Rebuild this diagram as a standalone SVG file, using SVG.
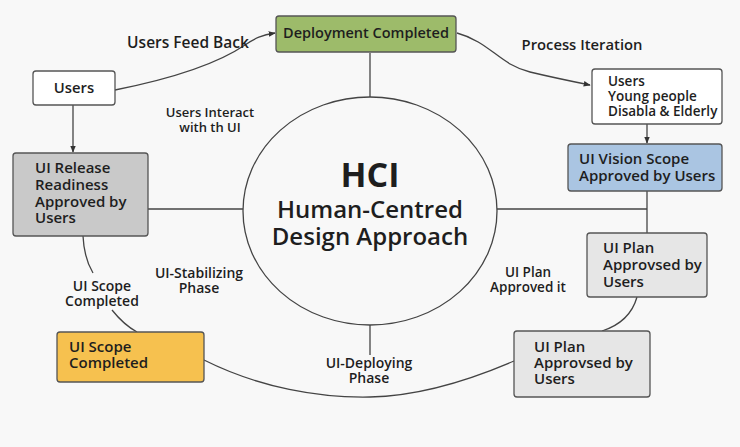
<svg xmlns="http://www.w3.org/2000/svg" width="740" height="447" viewBox="0 0 740 447">
<defs>
<marker id="arr" viewBox="0 0 10 10" refX="9" refY="5" markerWidth="7" markerHeight="7" orient="auto" markerUnits="userSpaceOnUse">
<path d="M0,1 L10,5 L0,9 z" fill="#333"/>
</marker>
<style>
text{font-family:"Open Sans","Noto Sans","Liberation Sans",sans-serif;font-weight:600;fill:#1e1e1e}
.box{stroke:#555;stroke-width:1.3}
.t{font-size:15px}
.lbl{font-size:13px;text-anchor:middle}
.lbl2{font-size:14px;text-anchor:middle}
.big{font-size:14.8px}
.c{fill:none;stroke:#444;stroke-width:1.3}
</style>
</defs>
<rect width="740" height="447" fill="#f8f8f8"/>

<g id="connectors">
<path class="c" d="M370,53 L370,97"/>
<path class="c" d="M370,325 L370,355"/>
<path class="c" d="M148,209 L243,209"/>
<path class="c" d="M497,209 L647,209"/>
<path class="c" d="M647,191 L647,233"/>
<path class="c" d="M73,105 L73,152" marker-end="url(#arr)"/>
<path class="c" d="M647,124 L647,143" marker-end="url(#arr)"/>
<path class="c" d="M115,90 C175,78 220,62 245,45 C255,38 262,35 275,33" marker-end="url(#arr)"/>
<path class="c" d="M457,33 C490,42 500,65 530,72 C555,78 575,82 590,85" marker-end="url(#arr)"/>
<path class="c" d="M83,236 Q84,258 93,273"/>
<path class="c" d="M112,310 Q124,325 137,332"/>
<path class="c" d="M637,297 Q630,322 602,331"/>
<path class="c" d="M204,360 C260,388 320,398 370,397 C420,396 470,380 514,361"/>
</g>

<g id="hci">
<ellipse cx="370" cy="211" rx="127" ry="114" fill="#f8f8f8" stroke="#444" stroke-width="1.3"/>
<text x="370" y="187" text-anchor="middle" style="font-size:34px;font-weight:700">HCI</text>
<text x="370" y="218" text-anchor="middle" style="font-size:24px">Human-Centred</text>
<text x="370" y="245" text-anchor="middle" style="font-size:24px">Design Approach</text>
</g>

<g id="deployment">
<rect class="box" x="276" y="16" width="180" height="36" rx="3" fill="#9dbb6a"/>
<text x="366" y="38" text-anchor="middle" style="font-size:14.5px">Deployment Completed</text>
</g>

<g id="users">
<rect class="box" x="33" y="71" width="82" height="34" rx="3" fill="#ffffff"/>
<text x="74" y="93" text-anchor="middle" class="big">Users</text>
</g>

<g id="users-groups">
<rect class="box" x="592" y="69" width="130" height="55" rx="3" fill="#ffffff"/>
<text x="608" y="86" style="font-size:13.5px">Users</text>
<text x="608" y="101" style="font-size:13.5px">Young people</text>
<text x="608" y="116" style="font-size:13.5px">Disabla &amp; Elderly</text>
</g>

<g id="vision">
<rect class="box" x="568" y="144" width="154" height="47" rx="3" fill="#aac5e2"/>
<text x="579" y="164" class="t">UI Vision Scope</text>
<text x="579" y="181" class="t">Approved by Users</text>
</g>

<g id="plan1">
<rect class="box" x="587" y="233" width="120" height="64" rx="3" fill="#e6e6e6"/>
<text x="603" y="253" class="t">UI Plan</text>
<text x="603" y="270" class="t">Approvsed by</text>
<text x="603" y="287" class="t">Users</text>
</g>

<g id="plan2">
<rect class="box" x="514" y="331" width="136" height="66" rx="3" fill="#e6e6e6"/>
<text x="534" y="352" class="t">UI Plan</text>
<text x="534" y="368" class="t">Approvsed by</text>
<text x="534" y="384" class="t">Users</text>
</g>

<g id="scope">
<rect class="box" x="57" y="332" width="147" height="50" rx="3" fill="#f6c14f"/>
<text x="69" y="352" class="t">UI Scope</text>
<text x="69" y="368" class="t">Completed</text>
</g>

<g id="release">
<rect class="box" x="13" y="153" width="135" height="83" rx="3" fill="#c9c9c9"/>
<text x="35" y="173" class="t">UI Release</text>
<text x="35" y="190" class="t">Readiness</text>
<text x="35" y="207" class="t">Approved by</text>
<text x="35" y="223" class="t">Users</text>
</g>

<g id="labels">
<text x="188" y="48" class="big" text-anchor="middle" style="font-size:15.5px">Users Feed Back</text>
<text x="582" y="50" class="big" text-anchor="middle">Process Iteration</text>
<text x="210" y="117" class="lbl">Users Interact</text>
<text x="210" y="132" class="lbl">with th UI</text>
<text x="102" y="291" class="lbl2">UI Scope</text>
<text x="102" y="306" class="lbl2">Completed</text>
<text x="199" y="278" class="lbl2">UI-Stabilizing</text>
<text x="199" y="293" class="lbl2">Phase</text>
<text x="369" y="368" class="lbl2">UI-Deploying</text>
<text x="369" y="383" class="lbl2">Phase</text>
<text x="528" y="277" class="lbl" style="font-size:13.5px">UI Plan</text>
<text x="528" y="292" class="lbl" style="font-size:13.5px">Approved it</text>
</g>
</svg>
